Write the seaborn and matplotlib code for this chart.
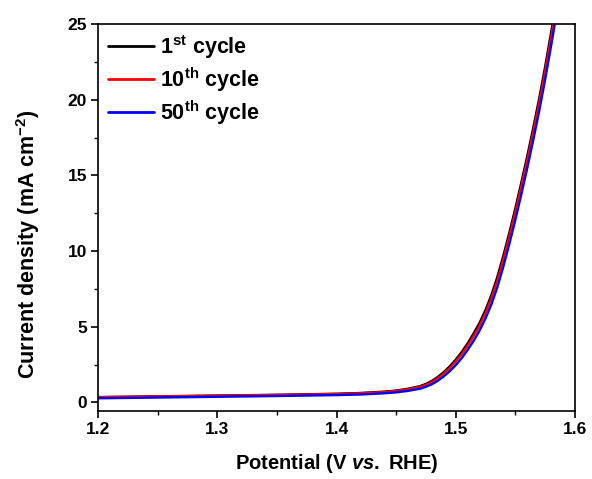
import numpy as np
import pandas as pd
import matplotlib
matplotlib.use("Agg")
import matplotlib.pyplot as plt
from matplotlib.ticker import MultipleLocator
import seaborn as sns

# Data
potential_1 = [1.20, 1.25, 1.30, 1.35, 1.40, 1.42, 1.44, 1.45, 1.46, 1.47, 1.475, 1.48, 1.485,
               1.49, 1.495, 1.50, 1.505, 1.51, 1.515, 1.52, 1.525, 1.53, 1.535, 1.54, 1.545,
               1.55, 1.555, 1.56, 1.565, 1.57, 1.575, 1.58, 1.585]
current_1 = [0.35, 0.40, 0.45, 0.50, 0.57, 0.62, 0.71, 0.78, 0.90, 1.07, 1.22, 1.42, 1.68,
             2.00, 2.38, 2.82, 3.32, 3.90, 4.55, 5.25, 6.10, 7.10, 8.30, 9.70, 11.20,
             12.80, 14.50, 16.25, 18.10, 20.05, 22.15, 24.40, 26.75]

potential_10 = potential_1
current_10 = [0.34, 0.39, 0.44, 0.49, 0.55, 0.60, 0.68, 0.75, 0.86, 1.02, 1.16, 1.35, 1.60,
              1.90, 2.27, 2.70, 3.18, 3.74, 4.38, 5.06, 5.90, 6.88, 8.05, 9.45, 10.95,
              12.55, 14.25, 15.98, 17.82, 19.76, 21.85, 24.08, 26.40]

potential_50 = potential_1
current_50 = [0.27, 0.32, 0.37, 0.42, 0.48, 0.52, 0.60, 0.66, 0.76, 0.90, 1.03, 1.20, 1.43,
              1.72, 2.06, 2.46, 2.92, 3.46, 4.06, 4.74, 5.54, 6.48, 7.62, 8.98, 10.46,
              12.04, 13.72, 15.46, 17.30, 19.22, 21.30, 23.52, 25.85]

labels = [r"1$^{\mathbf{st}}$ cycle", r"10$^{\mathbf{th}}$ cycle", r"50$^{\mathbf{th}}$ cycle"]
colors = ["#000000", "#FF0000", "#0000FF"]

df = pd.concat([
    pd.DataFrame({"Potential": potential_1, "Current": current_1, "Cycle": labels[0]}),
    pd.DataFrame({"Potential": potential_10, "Current": current_10, "Cycle": labels[1]}),
    pd.DataFrame({"Potential": potential_50, "Current": current_50, "Cycle": labels[2]}),
], ignore_index=True)

sns.set_theme(style="ticks")
plt.rcParams["font.family"] = ["Liberation Sans", "DejaVu Sans"]
plt.rcParams["font.weight"] = "bold"
plt.rcParams["mathtext.fontset"] = "custom"
plt.rcParams["mathtext.rm"] = "Liberation Sans:bold"
plt.rcParams["mathtext.bf"] = "Liberation Sans:bold"
plt.rcParams["mathtext.it"] = "Liberation Sans:bold:italic"
for key in ["text.color", "axes.labelcolor", "xtick.color", "ytick.color", "axes.edgecolor"]:
    plt.rcParams[key] = "black"

fig = plt.figure(figsize=(5.92, 4.79), dpi=100)
ax = fig.add_axes([0.166, 0.1426, 0.805, 0.8073])

sns.lineplot(data=df, x="Potential", y="Current", hue="Cycle", palette=colors,
             linewidth=1.7, ax=ax, sort=False, estimator=None)

ax.set_xlim(1.2, 1.6)
ax.set_ylim(-0.55, 25)
ax.xaxis.set_major_locator(MultipleLocator(0.1))
ax.xaxis.set_minor_locator(MultipleLocator(0.05))
ax.yaxis.set_major_locator(MultipleLocator(5))
ax.yaxis.set_minor_locator(MultipleLocator(2.5))
ax.tick_params(which="major", direction="out", length=5, width=1.2, labelsize=12.5,
               color="black", labelcolor="black", pad=3)
ax.tick_params(which="minor", direction="out", length=3, width=1.0, color="black")
for lab in ax.get_xticklabels() + ax.get_yticklabels():
    lab.set_fontweight("bold")
for sp in ax.spines.values():
    sp.set_linewidth(1.2)
    sp.set_color("black")

ax.set_xlabel(r"Potential (V $\mathit{vs.}$ RHE)", fontsize=14.5, fontweight="bold", labelpad=11)
ax.set_ylabel(r"Current density (mA cm$^{-2}$)", fontsize=15.5, fontweight="bold")
ax.yaxis.set_label_coords(-0.118, 0.43)

leg = ax.legend(loc="upper left", bbox_to_anchor=(-0.012, 1.016), frameon=False,
                prop={"size": 15.5, "weight": "bold"},
                handlelength=2.15, handletextpad=0.3, labelspacing=0.2,
                borderaxespad=0.3)
for line in leg.get_lines():
    line.set_linewidth(2)

fig.savefig("out.png", dpi=100)
